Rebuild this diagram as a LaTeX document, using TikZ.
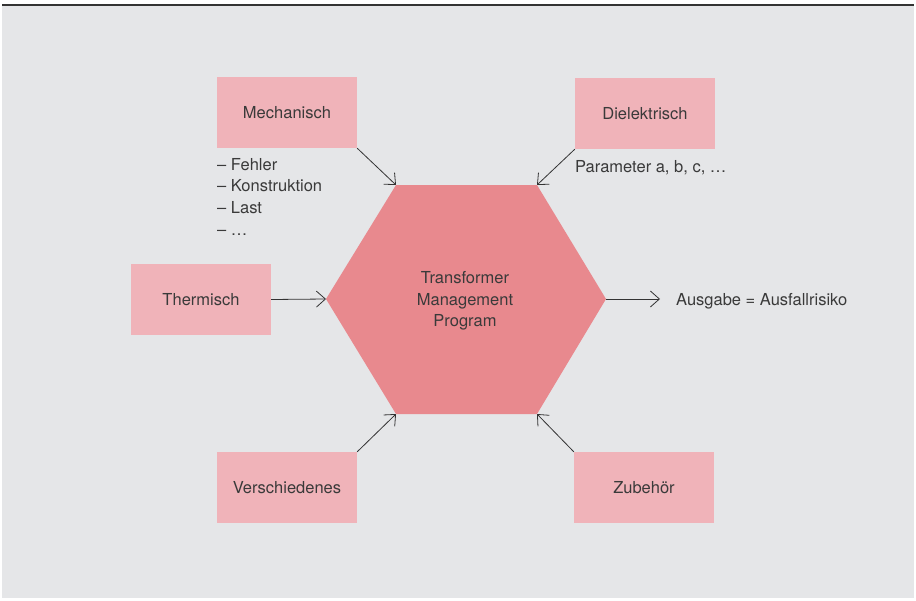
\documentclass[tikz,border=0pt]{standalone}
\usepackage{fontspec}
\setmainfont{TeX Gyre Heros}
\usetikzlibrary{arrows.meta,positioning}
\definecolor{bg}{HTML}{E5E6E8}
\definecolor{boxc}{HTML}{F0B3B9}
\definecolor{hexc}{HTML}{E8898E}
\definecolor{txt}{HTML}{3A3A3A}
\definecolor{ln}{HTML}{333333}
\tikzset{
  cat/.style={fill=boxc, draw=none, minimum width=140pt, minimum height=71pt, inner sep=0pt, text=txt, font=\fontsize{16.5}{19}\selectfont},
  lbl/.style={text=txt, font=\fontsize{16.5}{21.7}\selectfont, inner sep=0pt, anchor=north west, align=left},
  conn/.style={draw=ln, line width=0.8pt, -{Straight Barb[length=9pt,width=16pt,line width=0.8pt]}},
}
\begin{document}
\begin{tikzpicture}[x=1pt,y=-1pt]
\useasboundingbox (0,0) rectangle (916,600);
\fill[white] (0,0) rectangle (916,600);
\fill[bg] (2,6) rectangle (914,598);
\draw[ln, line width=2pt] (2,5) -- (914,5);
% hexagon
\coordinate (hL) at (326,299);
\coordinate (hTL) at (396,185);
\coordinate (hTR) at (537,185);
\coordinate (hR) at (606,299);
\coordinate (hBR) at (537,414);
\coordinate (hBL) at (396,414);
\fill[hexc] (hL) -- (hTL) -- (hTR) -- (hR) -- (hBR) -- (hBL) -- cycle;
\node[text=txt, font=\fontsize{16.5}{21.7}\selectfont, align=center] (tmp) at (465,301) {Transformer\\Management\\Program};
% boxes
\node[cat] (mech) at (287,112.5) {Mechanisch};
\node[cat] (diel) at (645,113.5) {Dielektrisch};
\node[cat] (therm) at (201,299.5) {Thermisch};
\node[cat] (versch) at (287,487.5) {Verschiedenes};
\node[cat] (zub) at (644,487.5) {Zubehör};
% labels
\node[lbl] (mlist) at (217,158) {– Fehler\\– Konstruktion\\– Last\\– …};
\node[lbl] (param) at (575,160) {Parameter a, b, c, …};
\coordinate (outend) at (660,299);
\node[lbl, anchor=west] (out) at (676,301) {Ausgabe = Ausfallrisiko};
% connectors
\draw[conn] (mech.south east) -- (hTL);
\draw[conn] (diel.south west) -- (hTR);
\draw[conn] (therm.east) -- (hL);
\draw[conn] (hR) -- (outend);
\draw[conn] (versch.north east) -- (hBL);
\draw[conn] (zub.north west) -- (hBR);
\end{tikzpicture}
\end{document}
